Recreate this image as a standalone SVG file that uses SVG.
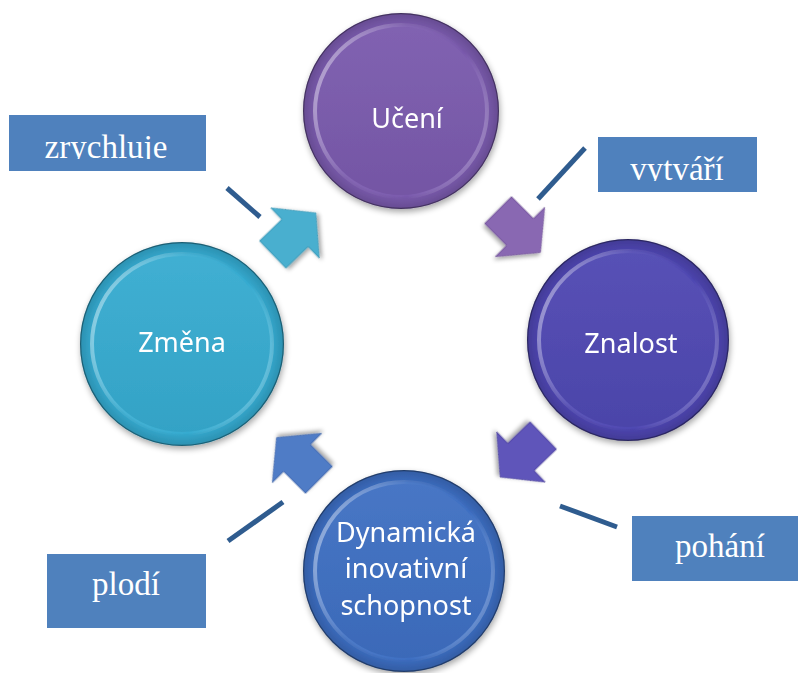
<svg xmlns="http://www.w3.org/2000/svg" width="798" height="673" viewBox="0 0 798 673">
  <style>
    .node-label { font-family: "Noto Sans", "Open Sans", "Liberation Sans", sans-serif; font-size: 27px; fill: #ffffff; text-anchor: middle; }
    .verb-box { fill: #4F81BD; }
    .verb-label { font-family: "Liberation Serif", "DejaVu Serif", serif; font-size: 33px; fill: #ffffff; text-anchor: middle; }
    .leader { stroke: #2F5C8F; stroke-width: 5; fill: none; }
    .arrow { stroke-width: 1; stroke-opacity: 0.6; filter: url(#arrowShadow); }
    .edge { fill: none; stroke: #000; stroke-opacity: 0.35; stroke-width: 1.2; }
  </style>
  <defs>
    <!-- soft shadow under each disc -->
    <filter id="discShadow" x="-20%" y="-20%" width="140%" height="140%">
      <feGaussianBlur in="SourceAlpha" stdDeviation="3"/>
      <feOffset dx="1" dy="3" result="b"/>
      <feComponentTransfer><feFuncA type="linear" slope="0.35"/></feComponentTransfer>
      <feMerge><feMergeNode/><feMergeNode in="SourceGraphic"/></feMerge>
    </filter>
    <filter id="arrowShadow" x="-30%" y="-30%" width="160%" height="160%">
      <feGaussianBlur in="SourceAlpha" stdDeviation="2"/>
      <feOffset dx="1" dy="3" result="b"/>
      <feComponentTransfer><feFuncA type="linear" slope="0.35"/></feComponentTransfer>
      <feMerge><feMergeNode/><feMergeNode in="SourceGraphic"/></feMerge>
    </filter>
    <!-- outer rim shading: slightly darker towards the edge -->
    <radialGradient id="rimShade" cx="50%" cy="50%" r="50%">
      <stop offset="0.88" stop-color="#000" stop-opacity="0"/>
      <stop offset="1" stop-color="#000" stop-opacity="0.14"/>
    </radialGradient>
    <!-- bevel highlight on the inner disc edge -->
    <linearGradient id="bevel" x1="0" y1="0.3" x2="1" y2="0.7">
      <stop offset="0" stop-color="#fff" stop-opacity="0.45"/>
      <stop offset="0.35" stop-color="#fff" stop-opacity="0.08"/>
      <stop offset="0.7" stop-color="#fff" stop-opacity="0.0"/>
      <stop offset="1" stop-color="#fff" stop-opacity="0.25"/>
    </linearGradient>
    <linearGradient id="innerShade" x1="0" y1="0" x2="0" y2="1">
      <stop offset="0" stop-color="#fff" stop-opacity="0.05"/>
      <stop offset="1" stop-color="#000" stop-opacity="0.05"/>
    </linearGradient>
    <polygon id="blockArrow" points="-31,-19 0,-19 0,-35 29,0 0,35 0,19 -31,19"/>
    <clipPath id="clipZrychluje"><rect x="9" y="115" width="197" height="44"/></clipPath>
    <clipPath id="clipVytvari"><rect x="598" y="137" width="159" height="44"/></clipPath>
  </defs>

  <!-- connectors: block arrows and label leader lines -->
  <g id="connectors">
    <use href="#blockArrow" class="arrow" fill="#4AAFCF" stroke="#2F8AA8" transform="translate(295,233) rotate(-44)"/>
    <use href="#blockArrow" class="arrow" fill="#8967B2" stroke="#65478C" transform="translate(520,232) rotate(45)"/>
    <use href="#blockArrow" class="arrow" fill="#5F55BA" stroke="#433A90" transform="translate(521,457) rotate(136)"/>
    <use href="#blockArrow" class="arrow" fill="#4F7BC6" stroke="#3A5E9E" transform="translate(297,458) rotate(-135)"/>
    <line class="leader" x1="227" y1="188" x2="260" y2="217"/>
    <line class="leader" x1="585" y1="148" x2="538" y2="199"/>
    <line class="leader" x1="560" y1="506" x2="617" y2="527"/>
    <line class="leader" x1="283" y1="502" x2="228" y2="541"/>
  </g>

  <!-- discs -->
  <g id="uceni" filter="url(#discShadow)">
    <circle cx="401" cy="111" r="98" fill="#7758A9"/>
    <circle cx="401" cy="111" r="98" fill="url(#rimShade)"/>
    <circle cx="401" cy="111" r="97.4" class="edge"/>
    <circle cx="401" cy="111" r="86" fill="#7A5AAD" stroke="url(#bevel)" stroke-width="4"/>
    <circle cx="401" cy="111" r="84" fill="url(#innerShade)"/>
    <text class="node-label" x="407" y="128">Učení</text>
  </g>

  <g id="znalost" filter="url(#discShadow)">
    <circle cx="628" cy="340" r="101" fill="#4C44AD"/>
    <circle cx="628" cy="340" r="101" fill="url(#rimShade)"/>
    <circle cx="628" cy="340" r="100.4" class="edge"/>
    <circle cx="628" cy="340" r="89" fill="#4F48B2" stroke="url(#bevel)" stroke-width="4"/>
    <circle cx="628" cy="340" r="87" fill="url(#innerShade)"/>
    <text class="node-label" x="631" y="353">Znalost</text>
  </g>

  <g id="dynamicka" filter="url(#discShadow)">
    <circle cx="404" cy="571" r="101" fill="#3B6BBD"/>
    <circle cx="404" cy="571" r="101" fill="url(#rimShade)"/>
    <circle cx="404" cy="571" r="100.4" class="edge"/>
    <circle cx="404" cy="571" r="89" fill="#3E6FC2" stroke="url(#bevel)" stroke-width="4"/>
    <circle cx="404" cy="571" r="87" fill="url(#innerShade)"/>
    <text class="node-label" x="406" y="542">Dynamická</text>
    <text class="node-label" x="406" y="578">inovativní</text>
    <text class="node-label" x="406" y="615">schopnost</text>
  </g>

  <g id="zmena" filter="url(#discShadow)">
    <circle cx="182" cy="344" r="102" fill="#33A7CC"/>
    <circle cx="182" cy="344" r="102" fill="url(#rimShade)"/>
    <circle cx="182" cy="344" r="101.4" class="edge"/>
    <circle cx="182" cy="344" r="90" fill="#36ABD0" stroke="url(#bevel)" stroke-width="4"/>
    <circle cx="182" cy="344" r="88" fill="url(#innerShade)"/>
    <text class="node-label" x="182" y="352">Změna</text>
  </g>

  <!-- verb labels -->
  <g id="label-zrychluje">
    <rect class="verb-box" x="9" y="115" width="197" height="56"/>
    <text class="verb-label" x="106" y="158" clip-path="url(#clipZrychluje)">zrychluje</text>
  </g>
  <g id="label-vytvari">
    <rect class="verb-box" x="598" y="137" width="159" height="55"/>
    <text class="verb-label" x="677" y="180" clip-path="url(#clipVytvari)">vytváří</text>
  </g>
  <g id="label-pohani">
    <rect class="verb-box" x="632" y="516" width="166" height="65"/>
    <text class="verb-label" x="720" y="557">pohání</text>
  </g>
  <g id="label-plodi">
    <rect class="verb-box" x="47" y="554" width="159" height="74"/>
    <text class="verb-label" x="126" y="595">plodí</text>
  </g>
</svg>
